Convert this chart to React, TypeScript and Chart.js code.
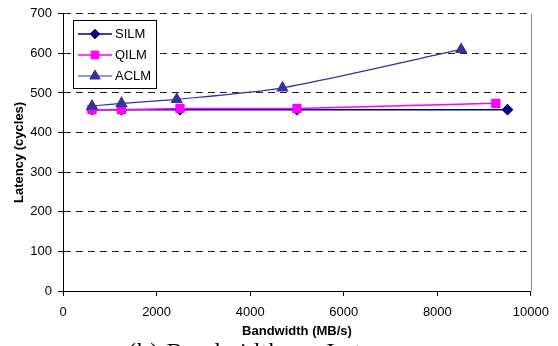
import React, { useEffect, useRef } from "react";
import { Chart, registerables } from "chart.js";
import { drawPoint } from "chart.js/helpers";

Chart.register(...registerables);

const silmX = [620, 1250, 2500, 5000, 9500];
const silmY = [458, 458, 458, 458, 458];
const qilmX = [620, 1250, 2500, 5000, 9250];
const qilmY = [458, 458, 461, 461, 474];
const aclmX = [620, 1250, 2430, 4690, 8510];
const aclmY = [467, 474, 484, 513, 610];

const xTicks = [0, 2000, 4000, 6000, 8000, 10000];
const yTicks = [0, 100, 200, 300, 400, 500, 600, 700];

const seriesNames = ["SILM", "QILM", "ACLM"];
const FONT = "'Liberation Sans', Arial, sans-serif";

const toPts = (xs: number[], ys: number[]) => xs.map((x, i) => ({ x, y: ys[i] }));

const legendPlugin = {
  id: "insideLegend",
  afterDraw(chart: any) {
    const ctx = chart.ctx;
    ctx.save();
    const ca = chart.chartArea;
    ctx.strokeStyle = "#8a8a8a";
    ctx.lineWidth = 1;
    ctx.beginPath();
    ctx.moveTo(Math.round(ca.right) + 0.5, Math.round(ca.top));
    ctx.lineTo(Math.round(ca.right) + 0.5, Math.round(ca.bottom));
    ctx.stroke();

    const bx = 73.5, by = 20.5, bw = 83, bh = 68;
    ctx.fillStyle = "#ffffff";
    ctx.fillRect(bx, by, bw, bh);
    ctx.strokeStyle = "#000000";
    ctx.strokeRect(bx, by, bw, bh);
    const rowsY = [34, 55, 76];
    chart.data.datasets.forEach((ds: any, i: number) => {
      const y = rowsY[i];
      ctx.strokeStyle = ds.borderColor;
      ctx.lineWidth = ds.borderWidth;
      ctx.beginPath();
      ctx.moveTo(78, y);
      ctx.lineTo(112, y);
      ctx.stroke();
      ctx.fillStyle = ds.pointBackgroundColor;
      ctx.strokeStyle = ds.pointBorderColor;
      ctx.lineWidth = 1;
      drawPoint(ctx, { pointStyle: ds.pointStyle, rotation: 0, borderWidth: 1, radius: ds.pointRadius }, 95, y);
      ctx.fillStyle = "#000";
      ctx.font = `13px ${FONT}`;
      ctx.textAlign = "left";
      ctx.textBaseline = "middle";
      ctx.fillText(ds.label, 115, y + 0.5);
    });
    ctx.restore();
  },
};

export default function App() {
  const ref = useRef<HTMLCanvasElement | null>(null);
  useEffect(() => {
    if (!ref.current) return;
    const chart = new Chart(ref.current, {
      type: "scatter",
      data: {
        datasets: [
          {
            label: seriesNames[0],
            data: toPts(silmX, silmY),
            showLine: true,
            borderColor: "#000080",
            borderWidth: 1.5,
            pointStyle: "rectRot",
            pointRadius: 4.8,
            pointBackgroundColor: "#000080",
            pointBorderColor: "#000080",
            order: 3,
            tension: 0,
          },
          {
            label: seriesNames[1],
            data: toPts(qilmX, qilmY),
            showLine: true,
            borderColor: "#ff00ff",
            borderWidth: 1.5,
            pointStyle: "rect",
            pointRadius: 5.5,
            pointBackgroundColor: "#ff00ff",
            pointBorderColor: "#ff00ff",
            order: 2,
            tension: 0,
          },
          {
            label: seriesNames[2],
            data: toPts(aclmX, aclmY),
            showLine: true,
            borderColor: "#333399",
            borderWidth: 1.2,
            pointStyle: "triangle",
            pointRadius: 6,
            pointBackgroundColor: "#333399",
            pointBorderColor: "#333399",
            order: 1,
            tension: 0.25,
          },
        ],
      } as any,
      options: {
        animation: false,
        responsive: false,
        events: [],
        layout: { padding: { left: 0, right: 20, top: 11, bottom: 0 } },
        plugins: { legend: { display: false }, tooltip: { enabled: false } },
        scales: {
          x: {
            type: "linear",
            min: 0,
            max: 10000,
            afterFit: (s: any) => { s.height = 55; },
            afterBuildTicks: (s: any) => { s.ticks = xTicks.map((v) => ({ value: v })); },
            ticks: {
              color: "#000",
              font: { family: FONT, size: 13 },
              padding: 9,
              maxRotation: 0,
              callback: (v: any) => String(v),
            },
            grid: { drawOnChartArea: false, drawTicks: true, tickLength: 5, tickColor: "#000" },
            border: { display: true, color: "#000", width: 1 },
            title: {
              display: true,
              text: "Bandwidth (MB/s)",
              color: "#000",
              font: { family: FONT, size: 13, weight: "bold" },
              padding: { top: 0, bottom: 7 },
            },
          },
          y: {
            type: "linear",
            min: 0,
            max: 700,
            afterFit: (s: any) => { s.width = 63; },
            afterBuildTicks: (s: any) => { s.ticks = yTicks.map((v) => ({ value: v })); },
            ticks: {
              color: "#000",
              font: { family: FONT, size: 13 },
              padding: 6,
              callback: (v: any) => String(v),
            },
            grid: {
              drawOnChartArea: true,
              drawTicks: true,
              tickLength: 5,
              color: "#222",
              tickColor: "#000",
              lineWidth: 1,
              tickBorderDash: [],
            } as any,
            border: { display: true, color: "#000", width: 1, dash: [7, 5] } as any,
            title: {
              display: true,
              text: "Latency (cycles)",
              color: "#000",
              font: { family: FONT, size: 13, weight: "bold" },
              padding: { top: 12, bottom: 0 },
            },
          },
        },
      } as any,
      plugins: [legendPlugin],
    });
    return () => chart.destroy();
  }, []);

  return (
    <div style={{ position: "fixed", left: 0, top: 0, width: 558, height: 346, overflow: "hidden", background: "#fff" }}>
      <canvas ref={ref} width={558} height={346} style={{ display: "block" }} />
      <div
        style={{
          position: "absolute",
          left: 128,
          top: 338.5,
          fontFamily: "'Liberation Serif', 'Times New Roman', serif",
          fontSize: 24,
          lineHeight: "24px",
          letterSpacing: "1.1px",
          whiteSpace: "nowrap",
          color: "#000",
        }}
      >
        (b) Bandwidth vs. Latency
      </div>
    </div>
  );
}
